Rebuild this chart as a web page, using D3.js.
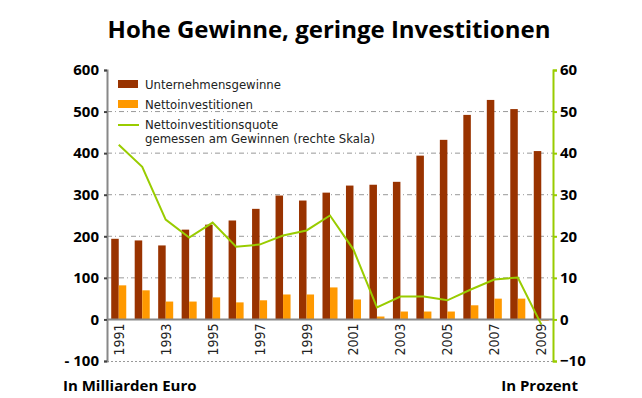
<!DOCTYPE html>
<html>
<head>
<meta charset="utf-8">
<script src="https://cdn.jsdelivr.net/npm/d3@7"></script>
<style>
  body { margin: 0; background: #fff; }
  text { font-family: "DejaVu Sans Condensed", "DejaVu Sans", sans-serif; font-stretch: condensed; }
</style>
</head>
<body>
<div id="chart"></div>
<script>
// data
var years = ["1991","1992","1993","1994","1995","1996","1997","1998","1999","2000",
             "2001","2002","2003","2004","2005","2006","2007","2008","2009"];
var gewinne = [194, 190, 178, 216, 228, 238, 266, 298, 286, 305,
               322, 324, 331, 394, 432, 492, 528, 506, 405];
var investitionen = [82, 70, 43, 43, 53, 41, 46, 60, 60, 77,
                     48, 7, 19, 19, 19, 34, 50, 50, -3];
var quote = [42, 36.7, 24, 19.7, 23.3, 17.5, 18, 20.2, 21.4, 25,
             16.8, 2.9, 5.5, 5.5, 4.6, 7.2, 9.6, 10.1, -1.2];
var leftTicks = [600, 500, 400, 300, 200, 100, 0, -100];
var rightTicks = [60, 50, 40, 30, 20, 10, 0, -10];

var width = 642, height = 398;
var margin = {top: 70, right: 89, bottom: 37, left: 107};

var svg = d3.select("#chart").append("svg")
    .attr("width", width)
    .attr("height", height);

var x0 = d3.scaleBand()
    .domain(years)
    .range([margin.left, width - margin.right])
    .paddingInner(0.36)
    .paddingOuter(0.18);

var x1 = d3.scaleBand()
    .domain(["g", "n"])
    .range([0, x0.bandwidth()]);

var y = d3.scaleLinear()
    .domain([-100, 600])
    .range([height - margin.bottom, margin.top]);

var y2 = d3.scaleLinear()
    .domain([-10, 60])
    .range([height - margin.bottom, margin.top]);

var xl = margin.left, xr = width - margin.right;

// title
svg.append("text")
    .attr("x", 329).attr("y", 38)
    .attr("text-anchor", "middle")
    .style("font-family", "'Open Sans', sans-serif")
    .style("font-stretch", "normal")
    .style("font-weight", "bold")
    .style("font-size", "24px")
    .text("Hohe Gewinne, geringe Investitionen");

// gridlines
svg.append("g").selectAll("line")
    .data([100, 200, 300, 400, 500])
    .enter().append("line")
    .attr("x1", xl).attr("x2", xr)
    .attr("y1", function(d) { return y(d); })
    .attr("y2", function(d) { return y(d); })
    .attr("stroke", "#999")
    .attr("stroke-width", 1)
    .attr("stroke-dasharray", "5,3,1,3");

svg.append("line")
    .attr("x1", xl).attr("x2", xr)
    .attr("y1", y(-100) + 0.5).attr("y2", y(-100) + 0.5)
    .attr("stroke", "#999")
    .attr("stroke-dasharray", "2,2");

// bars
var groups = svg.append("g").selectAll("g")
    .data(years)
    .enter().append("g")
    .attr("transform", function(d) { return "translate(" + x0(d) + ",0)"; });

groups.append("rect")
    .attr("x", x1("g"))
    .attr("width", x1.bandwidth())
    .attr("y", function(d, i) { return y(gewinne[i]); })
    .attr("height", function(d, i) { return y(0) - y(gewinne[i]); })
    .attr("fill", "#993300");

groups.append("rect")
    .attr("x", x1("n"))
    .attr("width", x1.bandwidth())
    .attr("y", function(d, i) { return y(Math.max(0, investitionen[i])); })
    .attr("height", function(d, i) { return Math.abs(y(0) - y(investitionen[i])); })
    .attr("fill", "#ff9900");

// zero line
svg.append("line")
    .attr("x1", xl).attr("x2", xr)
    .attr("y1", y(0)).attr("y2", y(0))
    .attr("stroke", "#888")
    .attr("stroke-width", 2);

// left axis
var leftAxis = d3.axisLeft(y).tickValues(leftTicks).tickSize(3)
    .tickFormat(function(d) { return d < 0 ? "- " + Math.abs(d) : d; });
var gl = svg.append("g")
    .attr("transform", "translate(" + xl + ",0)")
    .call(leftAxis);
gl.select(".domain").attr("stroke", "#888").attr("stroke-width", 2);
gl.selectAll(".tick line").attr("stroke", "#444").attr("stroke-width", 2);
gl.selectAll(".tick text")
    .attr("x", -8)
    .style("font-family", "'Open Sans', sans-serif")
    .style("font-stretch", "normal")
    .style("font-weight", "bold")
    .style("font-size", "15px")
    .attr("fill", "#000");

// right axis
var rightAxis = d3.axisRight(y2).tickValues(rightTicks).tickSize(4);
var gr = svg.append("g")
    .attr("transform", "translate(" + xr + ",0)")
    .call(rightAxis);
gr.select(".domain").attr("stroke", "#99cc00").attr("stroke-width", 2);
gr.selectAll(".tick line").attr("stroke", "#99cc00").attr("stroke-width", 2);
gr.selectAll(".tick text")
    .attr("x", 7)
    .style("font-family", "'Open Sans', sans-serif")
    .style("font-stretch", "normal")
    .style("font-weight", "bold")
    .style("font-size", "15px")
    .attr("fill", "#000");

// year labels (every second year)
svg.append("g").selectAll("text")
    .data(years.filter(function(d, i) { return i % 2 === 0; }))
    .enter().append("text")
    .attr("transform", function(d) {
        return "translate(" + (x0(d) + x0.bandwidth() / 2 + 5) + "," + (y(0) + 4) + ") rotate(-90)";
    })
    .attr("text-anchor", "end")
    .style("font-size", "14px")
    .attr("fill", "#222")
    .text(function(d) { return d; });

// quote line
var line = d3.line()
    .x(function(d, i) { return x0(years[i]) + x0.bandwidth() / 2; })
    .y(function(d) { return y2(d); });

svg.append("path")
    .datum(quote)
    .attr("d", line)
    .attr("fill", "none")
    .attr("stroke", "#99cc00")
    .attr("stroke-width", 2);

// legend
var legend = svg.append("g");
legend.append("rect").attr("x", 118).attr("y", 80).attr("width", 20).attr("height", 8).attr("fill", "#993300");
legend.append("rect").attr("x", 118).attr("y", 100).attr("width", 20).attr("height", 8).attr("fill", "#ff9900");
legend.append("line").attr("x1", 118).attr("x2", 139).attr("y1", 125).attr("y2", 125)
    .attr("stroke", "#99cc00").attr("stroke-width", 2);

var legendText = [
    {y: 89, t: "Unternehmensgewinne"},
    {y: 109, t: "Nettoinvestitionen"},
    {y: 129, t: "Nettoinvestitionsquote"},
    {y: 143, t: "gemessen am Gewinnen (rechte Skala)"}
];
legend.selectAll("text")
    .data(legendText)
    .enter().append("text")
    .attr("x", 145)
    .attr("y", function(d) { return d.y; })
    .style("font-size", "13px")
    .attr("fill", "#222")
    .text(function(d) { return d.t; });

// footer
svg.append("text")
    .attr("x", 63).attr("y", 391)
    .style("font-family", "'Open Sans', sans-serif")
    .style("font-stretch", "normal")
    .style("font-weight", "bold")
    .style("font-size", "15px")
    .text("In Milliarden Euro");

svg.append("text")
    .attr("x", 578).attr("y", 391)
    .attr("text-anchor", "end")
    .style("font-family", "'Open Sans', sans-serif")
    .style("font-stretch", "normal")
    .style("font-weight", "bold")
    .style("font-size", "15px")
    .text("In Prozent");
</script>
</body>
</html>
